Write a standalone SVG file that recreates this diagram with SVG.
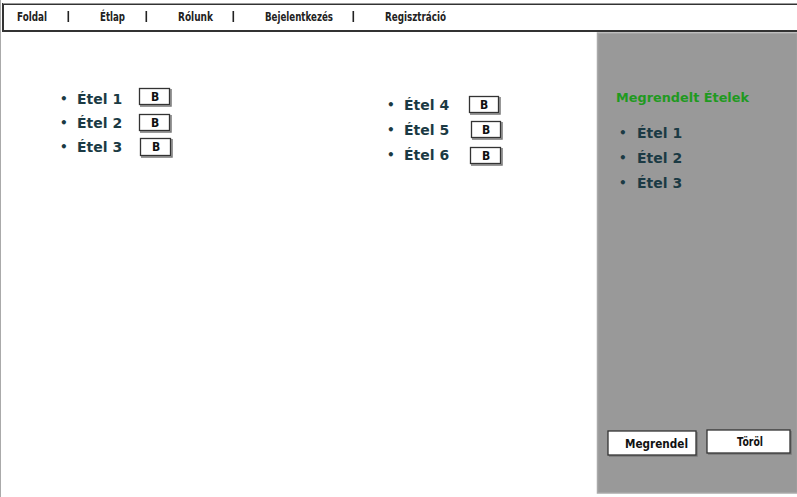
<svg xmlns="http://www.w3.org/2000/svg" width="797" height="497" viewBox="0 0 797 497">
<style>
.nav{font-family:"Liberation Sans Narrow","DejaVu Sans Condensed","Liberation Sans",sans-serif;font-weight:bold;font-size:13px;fill:#222}
.item{font-family:"DejaVu Sans","Liberation Sans",sans-serif;font-weight:bold;font-size:14px;fill:#1b3a44}
.bul{font-family:"DejaVu Sans",sans-serif;font-weight:bold;font-size:12px;fill:#1b3a44}
.bbox{fill:#fff;stroke:#333;stroke-width:1.3}
.bsh{fill:none;stroke:#777;stroke-width:1.5}
.blab{font-family:"Liberation Sans Narrow","DejaVu Sans Condensed","Liberation Sans",sans-serif;font-weight:bold;font-size:12px;fill:#111;text-anchor:middle}
.btn{font-family:"Liberation Sans Narrow","DejaVu Sans Condensed","Liberation Sans",sans-serif;font-weight:bold;font-size:13px;fill:#111}
</style>
<rect x="0" y="0" width="797" height="497" fill="#fff"/>
<line x1="0.5" y1="0" x2="0.5" y2="497" stroke="#aaa" stroke-width="1"/>
<g id="navbar">
<rect x="3" y="4" width="795" height="27" fill="#fff" stroke="#333" stroke-width="2"/>
<line x1="3" y1="3.5" x2="797" y2="3.5" stroke="#999" stroke-width="1"/>
<text class="nav" x="17" y="21" textLength="30" lengthAdjust="spacingAndGlyphs">Foldal</text>
<rect x="67.5" y="11" width="1.6" height="11" fill="#222"/>
<text class="nav" x="100" y="21" textLength="25" lengthAdjust="spacingAndGlyphs">Étlap</text>
<rect x="145.5" y="11" width="1.6" height="11" fill="#222"/>
<text class="nav" x="178" y="21" textLength="35" lengthAdjust="spacingAndGlyphs">Rólunk</text>
<rect x="232.5" y="11" width="1.6" height="11" fill="#222"/>
<text class="nav" x="265" y="21" textLength="68" lengthAdjust="spacingAndGlyphs">Bejelentkezés</text>
<rect x="352.5" y="11" width="1.6" height="11" fill="#222"/>
<text class="nav" x="385" y="21" textLength="61" lengthAdjust="spacingAndGlyphs">Regisztráció</text>
</g>
<g id="panel">
<rect x="597.5" y="33" width="200" height="460" fill="#999" stroke="#aaa" stroke-width="1.5"/>
<text x="616" y="102" font-family="DejaVu Sans,Liberation Sans,sans-serif" font-size="13" font-weight="bold" fill="#1f9a1f" textLength="133" lengthAdjust="spacingAndGlyphs">Megrendelt Ételek</text>
<text class="bul" x="619" y="137">•</text><text class="item" x="637" y="138">Étel 1</text>
<text class="bul" x="619" y="162">•</text><text class="item" x="637" y="163">Étel 2</text>
<text class="bul" x="619" y="187">•</text><text class="item" x="637" y="188">Étel 3</text>
</g>
<g id="list-left">
<text class="bul" x="60" y="103">•</text><text class="item" x="77" y="104">Étel 1</text>
<polyline class="bsh" points="171,89 171,106 140,106"/>
<rect class="bbox" x="139.5" y="88.5" width="30" height="16"/>
<text class="blab" x="155" y="101">B</text>
<text class="bul" x="60" y="127">•</text><text class="item" x="77" y="128">Étel 2</text>
<polyline class="bsh" points="171,115 171,132 140,132"/>
<rect class="bbox" x="139.5" y="114.5" width="30" height="16"/>
<text class="blab" x="155" y="127">B</text>
<text class="bul" x="60" y="151">•</text><text class="item" x="77" y="152">Étel 3</text>
<polyline class="bsh" points="172,139 172,157 141,157"/>
<rect class="bbox" x="140.5" y="138.5" width="30" height="17"/>
<text class="blab" x="156" y="151">B</text>
</g>
<g id="list-right">
<text class="bul" x="387" y="109">•</text><text class="item" x="404" y="110">Étel 4</text>
<polyline class="bsh" points="500,97 500,114 470,114"/>
<rect class="bbox" x="469.5" y="96.5" width="29" height="16"/>
<text class="blab" x="484" y="109">B</text>
<text class="bul" x="387" y="134">•</text><text class="item" x="404" y="135">Étel 5</text>
<polyline class="bsh" points="502,122 502,139 472,139"/>
<rect class="bbox" x="471.5" y="121.5" width="29" height="16"/>
<text class="blab" x="486" y="134">B</text>
<text class="bul" x="387" y="159">•</text><text class="item" x="404" y="160">Étel 6</text>
<polyline class="bsh" points="502,148 502,165 471,165"/>
<rect class="bbox" x="470.5" y="147.5" width="30" height="16"/>
<text class="blab" x="486" y="160">B</text>
</g>
<g id="btn-megrendel">
<polyline class="bsh" points="697,432 697,456 609,456"/>
<rect class="bbox" x="608" y="431" width="88" height="24"/>
<text class="btn" x="625" y="448" textLength="63" lengthAdjust="spacingAndGlyphs">Megrendel</text>
</g>
<g id="btn-torol">
<polyline class="bsh" points="791,431 791,454 708,454"/>
<rect class="bbox" x="707" y="430" width="83" height="23"/>
<text class="btn" x="737" y="446" textLength="26" lengthAdjust="spacingAndGlyphs">Töröl</text>
</g>
</svg>
